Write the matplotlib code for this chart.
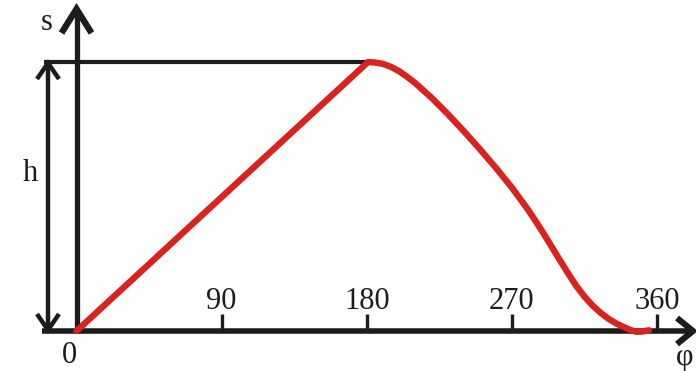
import matplotlib
matplotlib.use("Agg")
import matplotlib.pyplot as plt

# cam displacement diagram: s over rotation angle phi
tick_angles = [90, 180, 270, 360]
tick_labels = ["90", "180", "270", "360"]

rise_phi = [0, 180.8]
rise_s = [0.0, 1.0]

fall_phi = [180.8, 185, 190, 195, 200, 205, 210, 220, 230, 240, 250, 260, 270,
            280, 285, 290, 295, 300, 305, 310, 315, 320, 325, 330, 335, 340,
            343, 347, 351, 355]
fall_s = [1.0, 0.998, 0.993, 0.982, 0.966, 0.945, 0.922, 0.868, 0.808, 0.744,
          0.677, 0.607, 0.533, 0.451, 0.406, 0.359, 0.310, 0.261, 0.213, 0.167,
          0.128, 0.095, 0.068, 0.045, 0.027, 0.013, 0.005, -0.003, -0.002, 0.003]

BLACK = "#1c1c1c"
RED = "#d8231f"
FONT = "Liberation Serif"

# pixel scale of the drawing
PX_X = 1.6125   # px per degree
PX_Y = 269.0    # px per unit of s


def dx(px):
    return px / PX_X


def dy(px):
    return px / PX_Y


fig = plt.figure(figsize=(6.96, 3.71), dpi=100)
ax = fig.add_axes([0, 0, 1, 1])
ax.set_xlim(-76.5 / PX_X, (696 - 76.5) / PX_X)
ax.set_ylim(-(371 - 331) / PX_Y, 331 / PX_Y)
ax.axis("off")

line_kw = dict(color=BLACK, solid_capstyle="butt", solid_joinstyle="miter")

# s axis with arrow
s_top = dy(331 - 9)
ax.plot([0, 0], [dy(-2), s_top - dy(2)], lw=3.8, **line_kw)
ax.plot([-dx(15), 0, dx(15)], [s_top - dy(24), s_top, s_top - dy(24)], lw=4.6, **line_kw)

# phi axis with arrow
phi_end = (693 - 76.5) / PX_X
ax.plot([dx(42 - 76.5), phi_end - dx(2)], [0, 0], lw=4.0, **line_kw)
ax.plot([phi_end - dx(16), phi_end, phi_end - dx(16)], [dy(13), 0, -dy(13)], lw=4.4, **line_kw)

# stroke h dimension
hx = dx(48 - 76.5)
ax.plot([hx, hx], [0, 1], lw=3.2, **line_kw)
ax.plot([hx - dx(11), hx, hx + dx(11)], [1 - dy(17), 1 - dy(1), 1 - dy(17)], lw=3.2, **line_kw)
ax.plot([hx - dx(11), hx, hx + dx(11)], [dy(17), dy(1), dy(17)], lw=3.2, **line_kw)
ax.plot([dx(44 - 76.5), rise_phi[-1]], [1, 1], lw=3.0, **line_kw)

# ticks and tick labels
for a, lab in zip(tick_angles, tick_labels):
    ax.plot([a, a], [0, dy(17)], lw=2.4, **line_kw)
    ax.text(a, dy(331 - 309), lab, ha="center", va="baseline",
            fontsize=22, family=FONT, color=BLACK)

# displacement curve
ax.plot(rise_phi + fall_phi[1:], rise_s + fall_s[1:], color=RED, lw=4.6,
        solid_capstyle="round", solid_joinstyle="round", zorder=5)

ax.text(dx(47 - 76.5), dy(331 - 30), "s", ha="center", va="baseline",
        fontsize=22, family=FONT, color=BLACK)
ax.text(dx(30 - 76.5), dy(331 - 181), "h", ha="center", va="baseline",
        fontsize=22, family=FONT, color=BLACK)
ax.text(dx(69 - 76.5), dy(331 - 363), "0", ha="center", va="baseline",
        fontsize=22, family=FONT, color=BLACK)
ax.text(dx(685 - 76.5), dy(331 - 358), "φ", ha="center", va="center",
        fontsize=22, family=FONT, color=BLACK)

fig.savefig("out.png", dpi=100)
